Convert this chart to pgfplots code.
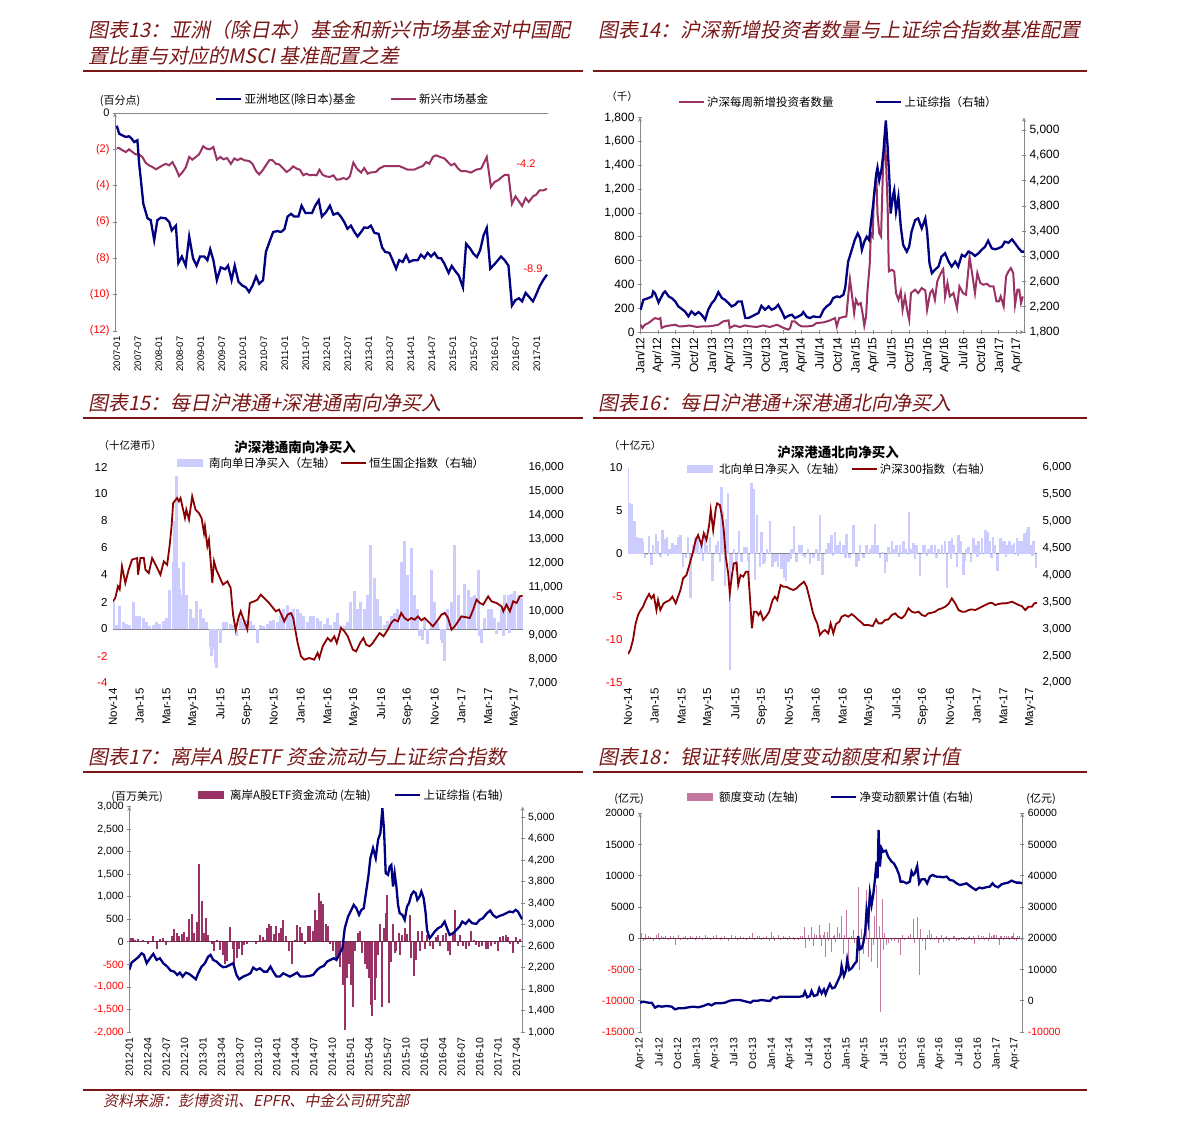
\documentclass[border=0pt]{standalone}
\usepackage{pgfplots}
\pgfplotsset{compat=1.18}
\usepackage{fontspec}
\setmainfont{Liberation Sans}
\newfontfamily\cjk{Noto Sans CJK SC}
\newfontfamily\cjkt[FakeSlant=0.2]{Noto Sans CJK SC}
\definecolor{navy}{RGB}{0,0,128}
\definecolor{plum}{RGB}{153,51,102}
\definecolor{dred}{RGB}{139,0,0}
\definecolor{lav}{RGB}{204,204,255}
\definecolor{ttl}{RGB}{122,24,24}
\definecolor{axgray}{RGB}{135,135,135}
\definecolor{barpink}{RGB}{196,120,160}
\definecolor{zline}{RGB}{110,40,70}
\newcommand{\fs}[1]{\fontsize{#1}{#1}\selectfont}
\newcommand{\R}[1]{\textcolor{red}{#1}}
\pgfplotsset{
  myax/.style={scale only axis, anchor=north west,
    scaled y ticks=false, scaled x ticks=false,
    axis line style={axgray, line width=0.8pt},
    every outer x axis line/.append style={-},
    every outer y axis line/.append style={-},
    every inner x axis line/.append style={-},
    every inner y axis line/.append style={-},
    tick style={axgray, line width=0.8pt},
    tick align=outside, major tick length=4pt,
    legend style={draw=none, fill=none, inner sep=0pt, anchor=west, font=\cjk\fs{11.5}},
    legend cell align=left,
  },
  linleg/.style={legend image code/.code={\draw[##1] (0pt,0pt)--(25pt,0pt);}},
  barleg/.style={legend image code/.code={\draw[##1,line width=8pt] (0pt,0pt)--(26pt,0pt);}},
}
\begin{document}
\begin{tikzpicture}
\fill[white] (0pt,0pt) rectangle (1191pt,-1130pt);
\useasboundingbox (0pt,0pt) rectangle (1191pt,-1130pt);
% ---------- titles ----------
\node[anchor=west,inner sep=0pt,text=ttl,font=\cjkt\fs{20}] at (88pt,-30pt) {图表13：亚洲（除日本）基金和新兴市场基金对中国配};
\node[anchor=west,inner sep=0pt,text=ttl,font=\cjkt\fs{20}] at (88pt,-56pt) {置比重与对应的MSCI 基准配置之差};
\node[anchor=west,inner sep=0pt,text=ttl,font=\cjkt\fs{20}] at (598pt,-30pt) {图表14：沪深新增投资者数量与上证综合指数基准配置};
\node[anchor=west,inner sep=0pt,text=ttl,font=\cjkt\fs{20}] at (88pt,-403pt) {图表15：每日沪港通+深港通南向净买入};
\node[anchor=west,inner sep=0pt,text=ttl,font=\cjkt\fs{20}] at (598pt,-403pt) {图表16：每日沪港通+深港通北向净买入};
\node[anchor=west,inner sep=0pt,text=ttl,font=\cjkt\fs{20}] at (88pt,-757pt) {图表17：离岸A 股ETF 资金流动与上证综合指数};
\node[anchor=west,inner sep=0pt,text=ttl,font=\cjkt\fs{20}] at (598pt,-757pt) {图表18：银证转账周度变动额度和累计值};
\node[anchor=west,inner sep=0pt,text=ttl,font=\cjkt\fs{15}] at (103pt,-1101pt) {资料来源：彭博资讯、EPFR、中金公司研究部};
\draw[ttl,line width=1.3pt] (83pt,-71pt)--(583pt,-71pt);
\draw[ttl,line width=1.3pt] (593pt,-71pt)--(1087pt,-71pt);
\draw[ttl,line width=1.3pt] (83pt,-418pt)--(583pt,-418pt);
\draw[ttl,line width=1.3pt] (593pt,-418pt)--(1087pt,-418pt);
\draw[ttl,line width=1.3pt] (83pt,-772pt)--(583pt,-772pt);
\draw[ttl,line width=1.3pt] (593pt,-772pt)--(1087pt,-772pt);
\draw[ttl,line width=1.3pt] (83pt,-1090pt)--(1087pt,-1090pt);
% ---------- small texts ----------
\node[font=\cjk\fs{11}] at (120pt,-101pt) {(百分点)};
\node[font=\fs{11},text=red] at (526pt,-164pt) {-4.2};
\node[font=\fs{11},text=red] at (533pt,-269pt) {-8.9};
\node[font=\cjk\fs{10.5}] at (622pt,-97pt) {（千）};
\node[font=\cjk\fs{10.5}] at (130pt,-446pt) {（十亿港币）};
\node[font=\cjk\bfseries\fs{13.5}] at (295pt,-447pt) {沪深港通南向净买入};
\node[font=\cjk\fs{10.5}] at (635pt,-446pt) {（十亿元）};
\node[font=\cjk\bfseries\fs{13.5}] at (838pt,-452pt) {沪深港通北向净买入};
\node[font=\cjk\fs{11}] at (137pt,-797pt) {(百万美元)};
\node[font=\cjk\fs{11}] at (629pt,-799pt) {(亿元)};
\node[font=\cjk\fs{11}] at (1041pt,-799pt) {(亿元)};

% ================= Panel 13 =================
\begin{axis}[myax, at={(115pt,-113pt)}, width=433pt, height=218pt,
  xmin=-0.5, xmax=123.2, ymin=-12, ymax=0,
  axis x line=bottom, axis y line=left,
  x axis line style={draw=none}, xtick style={draw=none},
  xtick={0,6,...,120},
  xticklabels={2007-01,2007-07,2008-01,2008-07,2009-01,2009-07,2010-01,2010-07,2011-01,2011-07,2012-01,2012-07,2013-01,2013-07,2014-01,2014-07,2015-01,2015-07,2016-01,2016-07,2017-01},
  xticklabel style={rotate=90, anchor=east, font=\fs{9.5}},
  ytick={-12,-10,...,-2},
  yticklabels={\R{(12)},\R{(10)},\R{(8)},\R{(6)},\R{(4)},\R{(2)}},
  yticklabel style={font=\fs{11}},
  extra y ticks={0}, extra y tick labels={0},
  extra y tick style={grid=major, major grid style={axgray, line width=0.8pt}},
  legend style={at={(0.635,1.064)}},
]
\addplot[plum, line width=2pt, linleg] coordinates {
(0,-1.93) (0.7,-1.93) (1.6,-2.05) (2.6,-2.15) (3.5,-2.0) (4.5,-2.15) (5.4,-2.28) (6.4,-2.28) (7.3,-2.42) (8.3,-2.75) (9.2,-2.88) (10.2,-2.97) (11.2,-3.1) (12.1,-3.0) (13.1,-2.88) (14.0,-2.8) (15.0,-2.88) (15.9,-2.7) (16.9,-3.06) (17.8,-3.47) (18.8,-3.25) (19.7,-3.0) (20.7,-2.42) (21.6,-2.57) (22.6,-2.42) (23.5,-2.28) (24.7,-1.83) (25.6,-1.96) (26.6,-2.0) (27.6,-1.87) (28.6,-2.57) (29.6,-2.42) (30.5,-2.55) (31.5,-2.48) (32.6,-2.8) (33.6,-2.5) (34.5,-2.6) (35.5,-2.5) (36.4,-2.6) (37.8,-2.64) (38.8,-2.8) (39.8,-3.2) (40.7,-3.38) (41.7,-3.15) (42.6,-2.88) (43.6,-2.6) (44.5,-2.6) (45.5,-2.8) (46.4,-2.83) (47.6,-3.06) (48.5,-3.25) (49.5,-3.12) (50.4,-2.94) (51.4,-3.06) (52.3,-3.12) (53.3,-3.43) (54.2,-3.34) (55.2,-3.43) (56.1,-3.4) (57.1,-3.43) (57.9,-3.12) (58.8,-3.4) (59.8,-3.49) (60.9,-3.52) (61.9,-3.43) (62.8,-3.67) (63.8,-3.65) (64.7,-3.58) (65.7,-3.65) (66.6,-3.49) (67.6,-2.73) (68.6,-3.06) (69.8,-3.28) (70.7,-3.03) (71.7,-3.34) (72.6,-3.27) (74.0,-3.25) (75.0,-3.06) (76.4,-2.92) (78.4,-2.92) (80.7,-2.92) (81.7,-3.0) (83.1,-3.12) (85.0,-3.12) (86.3,-3.0) (87.4,-2.92) (88.4,-2.7) (89.3,-2.79) (90.3,-2.42) (91.2,-2.33) (92.4,-2.42) (93.6,-2.5) (94.6,-2.7) (95.5,-2.88) (96.5,-2.79) (97.5,-3.06) (98.4,-3.2) (99.8,-3.2) (101.2,-3.28) (102.7,-3.12) (104.1,-3.06) (105.0,-2.7) (105.7,-2.42) (106.9,-4.07) (107.9,-3.8) (109.0,-3.7) (110.0,-3.52) (110.9,-3.4) (111.9,-3.4) (112.9,-5.0) (113.9,-4.59) (114.9,-4.86) (115.8,-5.12) (116.8,-4.68) (117.7,-4.9) (118.9,-4.59) (119.8,-4.5) (120.8,-4.26) (121.9,-4.26) (122.9,-4.17)
};
\addlegendentry{新兴市场基金}
\end{axis}
\begin{axis}[myax, at={(115pt,-113pt)}, width=433pt, height=218pt,
  xmin=-0.5, xmax=123.2, ymin=-12, ymax=0, hide axis,
  legend style={at={(0.231,1.064)}},
]
\addplot[navy, line width=2.3pt, linleg] coordinates {
(0,-0.7) (0.7,-1.14) (1.6,-1.23) (2.6,-1.32) (3.5,-1.28) (4.2,-1.4) (5.0,-1.6) (5.9,-1.5) (6.4,-2.8) (6.9,-3.7) (7.6,-5.0) (8.8,-5.8) (9.7,-5.9) (10.7,-7.0) (11.6,-5.9) (12.6,-5.76) (14.0,-5.8) (15.0,-6.0) (15.7,-6.46) (16.9,-6.2) (17.6,-8.26) (18.6,-7.9) (19.7,-8.4) (20.7,-6.8) (21.8,-8.0) (22.8,-8.4) (23.8,-7.9) (25.0,-7.9) (25.9,-8.1) (26.7,-7.5) (27.6,-8.1) (28.6,-9.2) (29.7,-8.5) (31.0,-8.6) (31.8,-8.4) (32.8,-9.2) (33.7,-8.4) (34.8,-9.3) (35.9,-9.5) (36.9,-9.6) (37.8,-9.85) (38.8,-9.5) (39.8,-9.0) (40.7,-9.4) (41.8,-9.2) (42.6,-7.65) (43.8,-7.0) (44.7,-6.55) (45.9,-6.5) (46.9,-6.55) (47.9,-6.4) (48.8,-5.7) (49.8,-5.55) (50.7,-5.7) (51.9,-5.7) (52.8,-5.1) (53.9,-5.5) (54.8,-5.5) (55.8,-5.5) (56.7,-5.1) (57.7,-4.8) (58.6,-5.7) (59.8,-5.45) (60.9,-5.1) (61.9,-5.6) (63.1,-5.5) (64.0,-5.7) (65.0,-6.0) (65.9,-6.37) (66.9,-6.2) (67.9,-6.55) (68.8,-6.8) (69.8,-6.55) (70.7,-6.3) (71.7,-6.33) (72.6,-6.2) (73.6,-6.6) (74.8,-6.65) (75.8,-7.4) (76.7,-7.65) (77.9,-7.7) (78.8,-8.1) (79.8,-8.57) (80.7,-8.1) (81.7,-8.2) (82.7,-7.83) (83.6,-8.2) (84.7,-8.1) (86.0,-8.1) (86.9,-7.8) (87.9,-7.98) (88.8,-7.7) (89.8,-7.9) (90.8,-7.7) (91.7,-7.98) (92.7,-8.0) (93.6,-8.3) (94.8,-8.8) (95.7,-8.42) (96.7,-8.7) (97.7,-8.94) (98.9,-9.6) (99.8,-7.2) (101.0,-7.47) (101.9,-7.75) (102.9,-7.93) (103.8,-7.56) (104.8,-6.73) (105.7,-6.33) (106.7,-8.57) (107.9,-8.33) (108.9,-8.1) (109.8,-7.9) (110.8,-8.1) (111.9,-8.4) (112.9,-10.6) (113.9,-10.3) (114.9,-10.2) (115.8,-10.37) (116.8,-9.9) (117.7,-10.1) (118.9,-10.37) (119.8,-10.0) (120.8,-9.54) (121.9,-9.17) (122.9,-8.9)
};
\addlegendentry{亚洲地区(除日本)基金}
\end{axis}

% ================= Panel 14 =================
\begin{axis}[myax, at={(640pt,-117.7pt)}, width=384pt, height=214.3pt,
  xmin=0, xmax=64.2, ymin=0, ymax=1800,
  axis x line=bottom, axis y line=left,
  xtick={0,3,...,63},
  xticklabels={Jan/12,Apr/12,Jul/12,Oct/12,Jan/13,Apr/13,Jul/13,Oct/13,Jan/14,Apr/14,Jul/14,Oct/14,Jan/15,Apr/15,Jul/15,Oct/15,Jan/16,Apr/16,Jul/16,Oct/16,Jan/17,Apr/17},
  xticklabel style={rotate=90, anchor=east, font=\fs{12}},
  ytick={0,200,...,1800},
  yticklabels={0,200,400,600,800,{1,000},{1,200},{1,400},{1,600},{1,800}},
  yticklabel style={font=\fs{12}},
  legend style={at={(0.099,1.073)}},
]
\addplot[plum, line width=2pt, linleg] coordinates {
(0.1,61) (0.4,34) (0.8,61) (1.4,75) (2.0,98) (2.5,117) (3.1,109) (3.4,117) (3.6,34) (4.2,48) (5.0,55) (5.9,61) (6.5,48) (7.2,48) (8.3,55) (9.5,42) (10.6,48) (11.5,48) (12.3,53) (13.1,61) (13.9,89) (14.8,98) (15.0,34) (15.8,55) (16.7,42) (17.5,55) (18.4,48) (19.5,42) (20.6,55) (21.7,42) (22.9,61) (24.0,34) (24.8,20) (25.1,34) (25.4,89) (25.9,89) (26.5,61) (27.0,48) (28.1,48) (28.9,53) (29.5,75) (30.7,81) (31.8,98) (32.6,117) (32.9,48) (33.3,117) (34.0,126) (34.5,131) (34.8,299) (35.1,444) (35.4,327) (35.8,159) (36.1,271) (36.5,229) (36.9,243) (37.2,159) (37.5,53) (37.8,131) (38.0,327) (38.4,565) (38.6,830) (38.9,802) (39.1,1138) (39.5,1333) (39.7,1000) (40.0,830) (40.3,802) (40.6,1333) (40.9,1641) (41.1,1473) (41.4,1054) (41.6,509) (42.1,523) (42.5,509) (42.8,327) (43.2,271) (43.6,341) (43.9,187) (44.3,299) (44.7,173) (45.0,103) (45.3,327) (46.0,355) (46.5,327) (47.1,369) (47.7,349) (48.0,187) (48.5,327) (48.9,355) (49.3,271) (49.7,425) (50.3,495) (50.7,528) (51.0,299) (51.4,411) (51.8,299) (52.4,327) (53.0,201) (53.4,383) (54.0,327) (54.5,313) (55.1,629) (55.6,467) (56.0,327) (56.4,495) (56.9,411) (57.4,397) (58.0,405) (58.5,383) (59.1,383) (59.6,257) (60.0,257) (60.3,299) (60.8,215) (61.2,467) (61.6,509) (62.0,537) (62.4,495) (62.7,229) (63.1,355) (63.4,355) (63.7,243) (64.0,299)
};
\addlegendentry{沪深每周新增投资者数量}
\end{axis}
\begin{axis}[myax, at={(640pt,-117.7pt)}, width=384pt, height=214.3pt,
  xmin=0, xmax=64.2, ymin=1800, ymax=5200,
  axis x line=none, axis y line=right,
  ytick={1800,2200,...,5000},
  yticklabels={{1,800},{2,200},{2,600},{3,000},{3,400},{3,800},{4,200},{4,600},{5,000}},
  yticklabel style={font=\fs{12}},
  legend style={at={(0.612,1.073)}},
]
\addplot[navy, line width=2.3pt, linleg] coordinates {
(0.1,2153) (0.56,2311) (1.4,2338) (2.0,2364) (2.2,2443) (2.5,2417) (3.1,2269) (3.9,2417) (4.2,2443) (4.8,2364) (5.3,2338) (5.9,2285) (6.4,2206) (7.0,2164) (7.5,2127) (8.1,2048) (8.6,2127) (9.2,2074) (9.8,2116) (10.3,2074) (10.9,1995) (11.4,2153) (12.0,2258) (12.5,2311) (13.1,2432) (13.7,2338) (14.2,2311) (14.8,2258) (15.3,2206) (15.9,2232) (16.4,2285) (17.0,2285) (17.6,2021) (18.1,2021) (18.7,2048) (19.2,2074) (19.8,2100) (20.3,2216) (20.9,2153) (21.5,2206) (22.0,2153) (22.6,2180) (23.1,2232) (23.7,2127) (24.2,2021) (24.8,2058) (25.4,2074) (25.9,2021) (26.5,2048) (27.0,2074) (27.3,2116) (27.9,2037) (28.4,2021) (29.0,2048) (29.5,2037) (30.1,2037) (30.7,2153) (31.2,2206) (31.8,2248) (32.3,2338) (32.9,2364) (33.4,2353) (34.0,2390) (34.3,2496) (34.8,2917) (35.4,3102) (35.9,3260) (36.4,3365) (36.8,3286) (37.1,3102) (37.5,3233) (37.9,3312) (38.3,3260) (38.6,3523) (39.0,3840) (39.5,4314) (39.7,4408) (40.0,4208) (40.4,4393) (40.7,4656) (40.9,4920) (41.1,5157) (41.4,4735) (41.7,4208) (41.9,3681) (42.3,3971) (42.5,4050) (42.8,3708) (43.2,3945) (43.6,3470) (44.0,3181) (44.6,3075) (45.0,3154) (45.4,3392) (46.0,3576) (46.5,3602) (47.1,3444) (47.7,3602) (48.0,3392) (48.4,2891) (48.8,2733) (49.3,2786) (49.9,2838) (50.4,2996) (51.0,3049) (51.6,2917) (52.1,2838) (52.7,2917) (53.2,2838) (53.8,3023) (54.3,2996) (54.9,3075) (55.5,3049) (56.0,3007) (56.6,3049) (57.1,3102) (57.7,3154) (58.2,3249) (58.8,3128) (59.4,3112) (59.9,3128) (60.5,3154) (61.0,3233) (61.6,3217) (62.2,3270) (62.7,3207) (63.3,3128) (63.8,3075) (64.2,3075)
};
\addlegendentry{上证综指（右轴）}
\end{axis}

% ================= Panel 15 =================
\begin{axis}[myax, at={(113pt,-467pt)}, width=410pt, height=216pt,
  xmin=0, xmax=30.6, ymin=-4, ymax=12,
  axis x line=bottom, axis y line=left,
  x axis line style={draw=none}, y axis line style={draw=none}, tick style={draw=none},
  xtick={0,2,...,30},
  xticklabels={Nov-14,Jan-15,Mar-15,May-15,Jul-15,Sep-15,Nov-15,Jan-16,Mar-16,May-16,Jul-16,Sep-16,Nov-16,Jan-17,Mar-17,May-17},
  xticklabel style={rotate=90, anchor=east, font=\fs{11.5}},
  ytick={-4,-2,...,12},
  yticklabels={\R{-4},\R{-2},0,2,4,6,8,10,12},
  yticklabel style={font=\fs{11.5}},
  extra y ticks={0}, extra y tick labels={},
  extra y tick style={grid=major, major grid style={axgray, line width=1pt}},
  legend style={at={(0.146,1.0185)}},
]
\addplot[ycomb, lav, line width=3pt, barleg] coordinates {
(0,2.0) (0.25,0.3) (0.5,1.7) (0.75,0.5) (1,0.4) (1.25,0.3) (1.5,2.0) (1.75,1.0) (2,1.0) (2.25,0.8) (2.5,0.5) (2.75,0.2) (3,0.3) (3.25,0.5) (3.5,0.4) (3.75,0.6) (4,0.8) (4.25,2.9) (4.5,5.0) (4.62,8.0) (4.75,11.3) (4.88,4.5) (5,3.0) (5.12,2.5) (5.25,5.0) (5.5,2.5) (5.75,1.5) (6,0.8) (6.25,2.1) (6.5,1.5) (6.75,0.8) (7,0.5) (7.25,-1.3) (7.38,-2.0) (7.5,-1.5) (7.62,-2.5) (7.75,-2.9) (8,-1.0) (8.25,0.5) (8.5,0.5) (8.75,0.4) (9,0.3) (9.25,-0.5) (9.5,0.8) (9.75,0.5) (10,0.7) (10.25,0.6) (10.5,0.3) (10.75,-1.0) (11,0.3) (11.25,0.2) (11.5,0.4) (11.75,0.6) (12,0.7) (12.25,0.5) (12.5,1.0) (12.75,1.5) (13,1.8) (13.25,1.2) (13.5,1.5) (13.75,1.5) (14,1.2) (14.25,1.0) (14.5,0.5) (14.75,1.0) (15,1.0) (15.25,0.8) (15.5,0.6) (15.75,0.4) (16,0.8) (16.25,0.3) (16.5,0.5) (16.75,1.2) (17,0.3) (17.25,0.2) (17.5,0.5) (17.75,2.0) (18,2.8) (18.25,1.5) (18.5,2.0) (18.75,1.5) (19,2.5) (19.25,6.2) (19.5,3.8) (19.75,2.2) (20,1.0) (20.25,0.3) (20.5,0.6) (20.75,1.0) (21,1.2) (21.25,1.5) (21.5,5.0) (21.62,4.5) (21.75,6.5) (22,4.0) (22.25,6.0) (22.5,2.5) (22.75,1.5) (22.88,-0.5) (23,-0.5) (23.12,-0.8) (23.25,0.8) (23.5,-1.1) (23.75,4.4) (24,2.0) (24.25,0.5) (24.5,-0.8) (24.62,-1.0) (24.75,-2.4) (25,1.5) (25.25,2.0) (25.5,6.2) (25.75,2.5) (26,1.0) (26.25,3.3) (26.5,2.9) (26.75,2.4) (27,2.5) (27.25,4.4) (27.38,-0.5) (27.5,-1.0) (27.75,0.8) (28,1.5) (28.25,1.5) (28.5,0.8) (28.62,-0.4) (28.75,0.5) (29,1.5) (29.12,-0.5) (29.25,2.5) (29.5,2.5) (29.62,-0.3) (29.75,2.6) (30,2.8) (30.25,2.5) (30.5,2.3)
};
\addlegendentry{南向单日净买入（左轴）}
\end{axis}
\begin{axis}[myax, at={(113pt,-467pt)}, width=410pt, height=216pt,
  xmin=0, xmax=30.6, ymin=7000, ymax=16000,
  axis x line=none, axis y line=right, y axis line style={draw=none}, tick style={draw=none},
  ytick={7000,8000,...,16000},
  yticklabels={{7,000},{8,000},{9,000},{10,000},{11,000},{12,000},{13,000},{14,000},{15,000},{16,000}},
  yticklabel style={font=\fs{11.5}},
  legend style={at={(0.554,1.0185)}},
]
\addplot[dred, line width=1.8pt, linleg] coordinates {
(0,10403) (0.17,10542) (0.37,11028) (0.5,10900) (0.67,11861) (0.92,11167) (1.17,11722) (1.42,12139) (1.80,12208) (1.87,11514) (2.05,12208) (2.30,12208) (2.42,11722) (2.67,11583) (2.92,12208) (3.17,11931) (3.42,11653) (3.54,11514) (3.79,12069) (4.04,11931) (4.22,12694) (4.37,13528) (4.49,14500) (4.79,14708) (4.92,14569) (5.04,14708) (5.37,13875) (5.47,14222) (5.67,13806) (5.91,14778) (6.16,14222) (6.41,14083) (6.61,13875) (6.79,13250) (6.86,13528) (7.04,12694) (7.16,12972) (7.29,12069) (7.41,11167) (7.54,12069) (7.71,11722) (8.04,11306) (8.21,11097) (8.54,11236) (8.78,10958) (8.96,9847) (9.16,9222) (9.36,9708) (9.53,9986) (9.66,9778) (10.03,9222) (10.21,10333) (10.53,10403) (10.78,10472) (11.03,10681) (11.28,10542) (11.65,10333) (12.15,9986) (12.40,10056) (12.78,9569) (13.03,9847) (13.28,9917) (13.45,9708) (13.78,8667) (14.03,8111) (14.27,7972) (14.65,8042) (15.02,7972) (15.27,8250) (15.40,8042) (15.65,8528) (16.02,8875) (16.27,8736) (16.52,8944) (16.70,8667) (17.02,9292) (17.27,9153) (17.52,8944) (17.90,8389) (18.15,8319) (18.44,8667) (18.69,8875) (18.89,8597) (19.14,8528) (19.39,8667) (19.64,8875) (19.89,9083) (20.19,8944) (20.51,9222) (20.76,9500) (21.01,9639) (21.26,9569) (21.51,9917) (21.76,9708) (22.01,9611) (22.26,9708) (22.51,9639) (22.76,9778) (23.01,9611) (23.26,9708) (23.51,9569) (23.88,9361) (24.26,9639) (24.51,9847) (24.76,9917) (25.01,9708) (25.26,9222) (25.51,9361) (25.76,9569) (26.00,9778) (26.25,9750) (26.63,9708) (26.88,10056) (27.13,10472) (27.38,10333) (27.63,10264) (28.00,10611) (28.25,10403) (28.63,10333) (29.00,10194) (29.13,9986) (29.37,10264) (29.62,9986) (29.87,10403) (30.12,10333) (30.37,10611) (30.57,10639)
};
\addlegendentry{恒生国企指数（右轴）}
\end{axis}

% ================= Panel 16 =================
\begin{axis}[myax, at={(628pt,-467.7pt)}, width=409pt, height=215pt,
  xmin=0, xmax=30.5, ymin=-15, ymax=10,
  axis x line=bottom, axis y line=left,
  x axis line style={draw=none}, y axis line style={draw=none}, tick style={draw=none},
  xtick={0,2,...,30},
  xticklabels={Nov-14,Jan-15,Mar-15,May-15,Jul-15,Sep-15,Nov-15,Jan-16,Mar-16,May-16,Jul-16,Sep-16,Nov-16,Jan-17,Mar-17,May-17},
  xticklabel style={rotate=90, anchor=east, font=\fs{11.5}},
  ytick={-15,-10,...,10},
  yticklabels={\R{-15},\R{-10},\R{-5},0,5,10},
  yticklabel style={font=\fs{11.5}},
  extra y ticks={0}, extra y tick labels={},
  extra y tick style={grid=major, major grid style={axgray, line width=1pt}},
  legend style={at={(0.134,0.994)}},
]
\addplot[ycomb, lav, line width=2.5pt, barleg] coordinates {
(0,10) (0.12,5.9) (0.25,5.8) (0.37,2.0) (0.5,3.8) (0.62,2.0) (0.82,1.8) (1.0,1.8) (1.12,1.5) (1.25,-0.5) (1.37,-0.2) (1.57,2.1) (1.74,-1.3) (1.87,1.0) (2.07,2.3) (2.24,1.5) (2.41,-0.4) (2.56,2.8) (2.74,1.7) (2.91,2.0) (3.0,-0.3) (3.11,0.5) (3.31,1.2) (3.56,1.0) (3.73,2.0) (3.91,2.2) (4.11,-1.6) (4.31,-0.5) (4.48,2.0) (4.66,-5.2) (4.85,1.0) (5.05,2.0) (5.23,2.3) (5.48,1.5) (5.6,-0.8) (5.73,2.5) (5.90,1.0) (6.10,2.0) (6.30,-3.2) (6.55,1.0) (6.72,1.5) (6.85,-1.0) (6.97,7.8) (7.09,5.0) (7.22,-3.7) (7.34,4.0) (7.47,7.1) (7.59,-13.5) (7.72,-1.5) (7.89,0.5) (8.09,-2.0) (8.29,2.6) (8.46,-1.0) (8.64,0.8) (8.84,0.8) (8.95,-0.8) (9.04,-3.0) (9.21,8.2) (9.34,7.5) (9.46,-3.0) (9.63,4.5) (9.83,-1.5) (9.96,2.5) (10.1,-1.2) (10.21,-1.0) (10.38,0.5) (10.58,3.8) (10.78,-1.5) (10.95,-1.0) (11.1,-0.8) (11.20,-1.5) (11.45,-1.8) (11.63,-2.8) (11.78,-3.2) (11.95,-1.0) (12.1,-0.6) (12.20,0.5) (12.37,3.2) (12.57,-1.0) (12.77,1.0) (12.94,1.0) (13.05,-0.3) (13.19,-0.5) (13.44,0.5) (13.57,-1.2) (13.82,-0.5) (14.07,0.5) (14.2,-0.8) (14.31,4.5) (14.51,-2.5) (14.76,0.5) (14.94,1.3) (15.19,2.2) (15.3,-0.3) (15.43,2.5) (15.61,1.0) (15.81,1.5) (16.06,1.0) (16.2,-0.5) (16.31,2.3) (16.50,-0.5) (16.80,3.3) (17.05,-1.5) (17.2,-0.8) (17.30,1.0) (17.55,-0.5) (17.80,1.0) (18.05,0.5) (18.25,1.0) (18.42,3.5) (18.60,1.0) (18.80,-0.5) (18.99,0.2) (19.17,-2.2) (19.3,-1.0) (19.42,0.8) (19.67,1.5) (19.84,0.5) (20.04,1.0) (20.2,-0.4) (20.29,1.0) (20.54,1.5) (20.74,0.5) (20.94,4.9) (21.09,0.5) (21.28,1.3) (21.4,-0.6) (21.53,1.0) (21.78,-2.6) (21.98,1.0) (22.16,1.0) (22.3,-0.3) (22.40,0.5) (22.65,1.0) (22.9,1.0) (23.0,-0.5) (23.15,0.5) (23.40,1.0) (23.65,1.5) (23.77,-4.0) (23.97,1.5) (24.07,-0.6) (24.15,1.8) (24.32,1.0) (24.52,-1.5) (24.65,2.2) (24.82,1.5) (25.02,-2.5) (25.12,-0.8) (25.22,0.5) (25.39,0.8) (25.57,-1.0) (25.77,1.8) (25.96,1.0) (26.05,-0.4) (26.14,1.5) (26.39,1.8) (26.64,2.7) (26.81,2.5) (27.01,1.5) (27.1,-0.5) (27.21,2.0) (27.38,1.0) (27.56,-2.0) (27.76,1.8) (27.96,1.5) (28.13,1.5) (28.2,-0.4) (28.30,1.0) (28.45,1.5) (28.63,1.0) (28.80,1.2) (29.00,1.8) (29.1,-0.3) (29.20,1.5) (29.37,1.5) (29.55,2.4) (29.75,2.8) (29.87,3.1) (30.05,1.0) (30.15,-0.3) (30.25,1.5) (30.42,-1.7)
};
\addlegendentry{北向单日净买入（左轴）}
\end{axis}
\begin{axis}[myax, at={(628pt,-467.7pt)}, width=409pt, height=215pt,
  xmin=0, xmax=30.5, ymin=2000, ymax=6000,
  axis x line=none, axis y line=right, y axis line style={draw=none}, tick style={draw=none},
  ytick={2000,2500,...,6000},
  yticklabels={{2,000},{2,500},{3,000},{3,500},{4,000},{4,500},{5,000},{5,500},{6,000}},
  yticklabel style={font=\fs{11.5}},
  legend style={at={(0.545,0.994)}},
]
\addplot[dred, line width=1.8pt, linleg] coordinates {
(0,2533) (0.17,2608) (0.37,2794) (0.57,3104) (0.75,3259) (0.87,3321) (1.12,3414) (1.32,3538) (1.57,3650) (1.74,3569) (1.92,3631) (2.12,3352) (2.24,3538) (2.41,3352) (2.66,3476) (2.86,3507) (3.11,3538) (3.31,3600) (3.56,3476) (3.73,3600) (3.91,3724) (4.11,3941) (4.36,4003) (4.61,4220) (4.85,4437) (5.05,4654) (5.23,4747) (5.48,4561) (5.65,4778) (5.85,4654) (6.05,4933) (6.17,5212) (6.35,4840) (6.55,5243) (6.65,5336) (6.85,5305) (7.02,5088) (7.14,4840) (7.29,4344) (7.47,4034) (7.59,3662) (7.77,4034) (7.89,4220) (8.09,4233) (8.22,3817) (8.39,4003) (8.59,3972) (8.79,4065) (8.96,4065) (9.09,3600) (9.24,3011) (9.39,3321) (9.58,3321) (9.73,3259) (9.88,3321) (10.08,3166) (10.28,3228) (10.53,3321) (10.78,3538) (10.95,3600) (11.13,3538) (11.38,3817) (11.58,3786) (11.82,3786) (12.02,3755) (12.32,3724) (12.57,3755) (12.82,3817) (13.12,3879) (13.32,3786) (13.57,3538) (13.77,3321) (13.94,3197) (14.11,3104) (14.31,2887) (14.51,2949) (14.69,2980) (14.94,2918) (15.11,3104) (15.31,2918) (15.51,3091) (15.76,3135) (15.93,3228) (16.18,3259) (16.43,3228) (16.68,3277) (16.93,3228) (17.18,3166) (17.35,3135) (17.60,3073) (17.92,3073) (18.25,3054) (18.50,3178) (18.67,3104) (18.92,3104) (19.17,3166) (19.42,3178) (19.67,3259) (19.92,3290) (20.16,3228) (20.41,3197) (20.66,3259) (20.91,3383) (21.16,3321) (21.41,3302) (21.66,3321) (21.91,3259) (22.16,3240) (22.40,3290) (22.65,3302) (22.90,3321) (23.15,3364) (23.40,3383) (23.65,3414) (23.90,3464) (24.15,3569) (24.40,3476) (24.65,3352) (24.90,3321) (25.14,3321) (25.39,3352) (25.64,3364) (25.89,3352) (26.14,3383) (26.39,3414) (26.64,3445) (26.89,3476) (27.13,3488) (27.38,3445) (27.63,3464) (27.88,3476) (28.13,3476) (28.38,3488) (28.63,3507) (28.88,3476) (29.13,3445) (29.37,3426) (29.62,3352) (29.87,3414) (30.12,3414) (30.30,3476) (30.50,3488)
};
\addlegendentry{沪深300指数（右轴）}
\end{axis}

% ================= Panel 17 =================
\begin{axis}[myax, at={(129.3pt,-806.7pt)}, width=393.4pt, height=225.3pt,
  xmin=0, xmax=64, ymin=-2000, ymax=3000,
  axis x line=bottom, axis y line=left,
  x axis line style={draw=none}, xtick style={draw=none},
  xtick={0,3,...,63},
  xticklabels={2012-01,2012-04,2012-07,2012-10,2013-01,2013-04,2013-07,2013-10,2014-01,2014-04,2014-07,2014-10,2015-01,2015-04,2015-07,2015-10,2016-01,2016-04,2016-07,2016-10,2017-01,2017-04},
  xticklabel style={rotate=90, anchor=east, font=\fs{10.5}},
  ytick={-2000,-1500,...,3000},
  yticklabels={\R{-2,000},\R{-1,500},\R{-1,000},\R{-500},0,500,{1,000},{1,500},{2,000},{2,500},{3,000}},
  yticklabel style={font=\fs{10.5}},
  legend style={at={(0.164,1.052)}},
]
\addplot[ycomb, plum, line width=2pt, barleg] coordinates {
(0.2,80) (0.65,80) (0.92,50) (1.46,70) (2.28,50) (3.09,-40) (3.36,30) (3.90,130) (4.44,-150) (4.98,60) (5.53,80) (5.96,-60) (6.34,20) (6.88,120) (7.31,280) (7.69,200) (8.13,120) (8.50,180) (8.94,210) (9.32,100) (9.75,500) (10.13,630) (10.51,200) (10.94,450) (11.38,1720) (11.76,900) (12.13,200) (12.46,520) (12.84,150) (13.38,-50) (13.76,-200) (14.19,50) (14.73,-180) (15.17,-280) (15.55,-480) (15.93,-420) (16.36,320) (16.79,-150) (17.01,-520) (17.44,-350) (17.88,-150) (18.26,-300) (18.64,-80) (19.07,-50) (19.61,30) (20.15,20) (20.69,-40) (21.24,150) (21.67,100) (22.05,50) (22.43,300) (22.75,400) (23.13,350) (23.51,180) (23.94,350) (24.38,200) (24.76,300) (25.03,480) (25.57,120) (26.00,-200) (26.54,-480) (26.92,50) (27.30,380) (27.74,320) (28.17,200) (28.55,-50) (29.09,350) (29.47,350) (29.90,250) (30.23,700) (30.55,480) (30.88,1080) (31.15,900) (31.53,850) (31.96,400) (32.34,350) (32.72,-50) (33.15,-200) (33.59,-400) (33.97,-300) (34.34,-550) (34.78,-950) (35.10,-1950) (35.43,-800) (35.75,-500) (36.13,-950) (36.40,-1450) (36.78,-200) (37.21,200) (37.59,250) (37.92,-250) (38.30,-500) (38.68,-600) (39.00,-800) (39.27,-1400) (39.54,-1650) (39.92,-1300) (40.20,-800) (40.47,-300) (40.85,400) (41.17,-1450) (41.44,300) (41.71,650) (41.98,1050) (42.25,-1350) (42.63,-450) (42.90,400) (43.17,-250) (43.45,-200) (43.82,200) (44.10,-300) (44.42,150) (44.80,300) (45.18,180) (45.61,600) (45.88,-350) (46.32,-750) (46.59,-400) (46.97,250) (47.24,-200) (47.67,250) (48.05,-150) (48.48,150) (48.86,-100) (49.40,-150) (49.84,100) (50.22,150) (50.60,-100) (51.03,150) (51.46,200) (51.84,-200) (52.22,-300) (52.65,200) (53.03,700) (53.47,-100) (53.85,150) (54.28,-100) (54.82,-150) (55.25,-100) (55.63,250) (56.01,50) (56.45,-80) (56.88,-120) (57.42,-100) (57.96,-150) (58.34,-150) (58.88,-100) (59.43,-50) (59.97,-200) (60.35,100) (60.78,120) (61.21,150) (61.59,100) (61.97,-50) (62.41,-250) (62.84,100) (63.22,-50) (63.60,60)
};
\addlegendentry{离岸A股ETF资金流动 (左轴)}
\draw[zline, line width=1.2pt] (axis cs:0,0) -- (axis cs:64,0);
\end{axis}
\begin{axis}[myax, at={(129.3pt,-806.7pt)}, width=393.4pt, height=225.3pt,
  xmin=0, xmax=64, ymin=1000, ymax=5200,
  axis x line=none, axis y line=right,
  ytick={1000,1400,...,5000},
  yticklabels={{1,000},{1,400},{1,800},{2,200},{2,600},{3,000},{3,400},{3,800},{4,200},{4,600},{5,000}},
  yticklabel style={font=\fs{10.5}},
  legend style={at={(0.673,1.052)}},
]
\addplot[navy, line width=2.3pt, linleg] coordinates {
(0,2157) (0.38,2294) (0.92,2344) (1.46,2394) (2.00,2468) (2.38,2437) (2.82,2282) (3.36,2375) (3.90,2456) (4.44,2344) (4.98,2375) (5.53,2282) (6.18,2219) (6.72,2145) (7.31,2126) (7.80,2064) (8.23,2107) (8.67,2033) (9.21,2107) (9.75,2082) (10.29,2033) (10.83,1983) (11.21,2095) (11.76,2219) (12.30,2282) (12.84,2406) (13.22,2437) (13.65,2344) (14.19,2313) (14.73,2250) (15.28,2207) (15.82,2219) (16.36,2250) (16.90,2282) (17.44,2064) (17.88,1983) (18.53,2033) (19.18,2064) (19.72,2095) (20.15,2201) (20.69,2157) (21.24,2188) (21.89,2126) (22.43,2126) (22.97,2219) (23.40,2126) (23.94,2033) (24.49,2033) (25.03,2095) (25.57,2064) (26.11,2033) (26.65,2064) (27.30,2107) (27.84,2033) (28.55,2033) (29.25,2045) (29.90,2064) (30.55,2157) (31.09,2207) (31.64,2232) (32.18,2313) (32.72,2344) (33.26,2375) (33.69,2344) (34.24,2468) (34.67,2561) (35.05,2935) (35.59,3152) (36.13,3277) (36.51,3370) (36.94,3308) (37.38,3184) (37.76,3277) (38.14,3308) (38.57,3650) (38.89,3899) (39.22,4241) (39.65,4428) (40.09,4241) (40.47,4583) (40.85,4708) (41.17,5174) (41.44,4770) (41.71,3961) (42.09,3930) (42.36,4086) (42.63,4117) (42.90,3712) (43.17,3961) (43.45,3712) (43.72,3370) (43.99,3215) (44.42,3184) (44.80,3090) (45.18,3339) (45.50,3401) (45.88,3557) (46.26,3619) (46.59,3588) (46.86,3463) (47.24,3526) (47.51,3619) (47.89,3495) (48.21,3215) (48.43,2904) (48.86,2748) (49.30,2810) (49.67,2873) (50.22,2935) (50.76,2966) (51.30,3059) (51.68,2935) (52.11,2810) (52.65,2841) (53.20,2904) (53.74,2966) (54.17,3059) (54.71,3016) (55.25,3090) (55.80,3028) (56.45,3016) (56.99,3090) (57.53,3121) (58.18,3215) (58.72,3264) (59.15,3184) (59.70,3134) (60.24,3165) (60.78,3184) (61.32,3215) (61.86,3246) (62.41,3233) (62.84,3277) (63.22,3246) (63.60,3165) (63.92,3103)
};
\addlegendentry{上证综指 (右轴)}
\end{axis}

% ================= Panel 18 =================
\begin{axis}[myax, at={(640pt,-813.3pt)}, width=382.3pt, height=218.7pt,
  xmin=0, xmax=61.2, ymin=-15000, ymax=20000,
  axis x line=bottom, axis y line=left,
  x axis line style={draw=none}, xtick style={draw=none},
  xtick={0,3,...,60},
  xticklabels={Apr-12,Jul-12,Oct-12,Jan-13,Apr-13,Jul-13,Oct-13,Jan-14,Apr-14,Jul-14,Oct-14,Jan-15,Apr-15,Jul-15,Oct-15,Jan-16,Apr-16,Jul-16,Oct-16,Jan-17,Apr-17},
  xticklabel style={rotate=90, anchor=east, font=\fs{10.5}},
  ytick={-15000,-10000,...,20000},
  yticklabels={\R{-15000},\R{-10000},\R{-5000},0,5000,10000,15000,20000},
  yticklabel style={font=\fs{10.5}},
  legend style={at={(0.112,1.075)}},
]
\addplot[ycomb, barpink, line width=0.9pt, barleg] coordinates {
(0.27,800) (0.53,-500) (0.80,700) (0.9,-300) (1.33,300) (1.6,200) (2.13,-400) (2.6,500) (2.93,900) (3.1,-200) (3.47,300) (3.8,200) (4.00,400) (4.5,-300) (4.80,300) (5.3,400) (5.60,-1000) (6.13,500) (6.5,-200) (6.93,200) (7.2,400) (7.6,-300) (8.00,300) (8.4,200) (8.8,-300) (9.07,400) (9.5,300) (10.0,-200) (10.40,500) (10.8,200) (11.2,-300) (11.73,300) (12.3,500) (12.8,-200) (13.07,200) (13.5,400) (14.1,-400) (14.67,500) (15.2,300) (15.6,-200) (16.00,300) (16.5,200) (17.07,-200) (17.5,300) (17.97,900) (18.4,-300) (18.8,400) (19.20,300) (19.5,-200) (19.73,200) (20.3,300) (20.7,-400) (21.07,1000) (21.4,300) (21.60,-500) (22.13,500) (22.5,-300) (22.93,300) (23.3,200) (23.6,-300) (24.00,400) (24.5,200) (24.8,-200) (25.33,-300) (25.7,300) (26.0,400) (26.29,1800) (26.56,-1600) (26.93,500) (27.1,-500) (27.47,1800) (27.73,-1200) (28.0,700) (28.27,500) (28.69,2100) (28.9,500) (29.07,-1200) (29.33,600) (29.5,1000) (29.71,-3000) (29.97,1000) (30.1,-500) (30.40,2500) (30.67,-2200) (30.9,400) (31.20,500) (31.3,-600) (31.57,1800) (31.89,600) (32.0,800) (32.27,3600) (32.53,-2500) (32.80,600) (33.07,4500) (33.33,-3500) (33.60,200) (33.8,400) (34.13,1300) (34.3,-800) (34.67,-1000) (34.93,8200) (35.20,-5000) (35.47,1500) (35.73,-2500) (36.00,500) (36.27,7800) (36.53,-3000) (36.80,8200) (37.07,-3800) (37.44,-1000) (37.60,3600) (37.87,8500) (38.03,-4700) (38.29,2000) (38.45,-11800) (38.77,6300) (38.93,-1800) (39.20,800) (39.47,-1000) (39.73,-800) (40.27,-400) (40.80,-400) (41.33,-700) (41.71,-2600) (41.97,600) (42.40,-300) (42.93,300) (43.36,700) (43.73,3100) (44.00,-800) (44.43,3400) (44.69,-5800) (44.91,1500) (45.2,-500) (45.76,-1800) (46.0,500) (46.29,1300) (46.5,-300) (46.67,700) (47.20,-300) (47.5,300) (47.73,-800) (48.0,-300) (48.27,500) (48.64,-600) (48.9,200) (49.07,400) (49.3,-300) (49.60,-400) (50.13,300) (50.4,300) (50.67,-400) (50.9,-200) (51.20,-300) (51.5,200) (51.73,200) (52.0,-300) (52.27,-200) (52.5,200) (52.80,300) (53.0,-300) (53.3,300) (53.60,-900) (54.13,600) (54.4,-200) (54.67,300) (54.9,400) (55.20,-300) (55.5,200) (55.8,-400) (56.00,800) (56.3,300) (56.53,500) (56.8,500) (57.07,600) (57.3,-300) (57.49,-1100) (57.7,400) (57.87,300) (58.2,-300) (58.40,400) (58.7,300) (58.93,400) (59.2,-300) (59.47,300) (59.6,400) (59.84,800) (60.0,-200) (60.27,-500) (60.5,300) (60.80,300) (61.0,-300)
};
\addlegendentry{额度变动 (左轴)}
\draw[zline, line width=0.9pt] (axis cs:0,0) -- (axis cs:61.2,0);
\end{axis}
\begin{axis}[myax, at={(640pt,-813.3pt)}, width=382.3pt, height=218.7pt,
  xmin=0, xmax=61.2, ymin=-10000, ymax=60000,
  axis x line=none, axis y line=right,
  ytick={-10000,0,...,60000},
  yticklabels={\R{-10000},0,10000,20000,30000,40000,50000,60000},
  yticklabel style={font=\fs{10.5}},
  legend style={at={(0.497,1.075)}},
]
\addplot[navy, line width=2.3pt, linleg] coordinates {
(0,-606) (0.53,-286) (1.33,-606) (1.87,-606) (2.40,-2206) (2.93,-1673) (3.47,-1886) (4.27,-1673) (5.07,-1886) (5.60,-2740) (6.13,-2420) (6.93,-2420) (7.73,-2099) (8.53,-1886) (9.33,-2099) (10.13,-1673) (10.93,-1032) (11.47,-1459) (12.00,-819) (12.80,-819) (13.60,-606) (14.40,33) (15.20,248) (16.00,248) (17.07,-286) (17.71,-606) (18.13,33) (18.93,33) (19.47,248) (20.27,33) (20.80,-73) (21.33,1102) (21.87,782) (22.40,1315) (23.20,1315) (24.00,1315) (24.80,1315) (25.60,1315) (26.13,1528) (26.40,2915) (26.77,1102) (27.20,1528) (27.47,3129) (27.84,1528) (28.37,1848) (28.69,3982) (29.07,2382) (29.44,3662) (29.71,2061) (29.97,3449) (30.40,5370) (30.77,3982) (31.20,4303) (31.73,6650) (32.11,8251) (32.27,11132) (32.64,7931) (32.96,9638) (33.17,13266) (33.49,9852) (33.87,10385) (34.40,11985) (34.67,12519) (34.93,20735) (35.20,16467) (35.47,16787) (35.73,18387) (36.05,22122) (36.27,29057) (36.53,25643) (36.80,34392) (37.07,30658) (37.33,33858) (37.60,38660) (37.87,44529) (38.03,39193) (38.19,54665) (38.40,42928) (38.67,48797) (38.93,47730) (39.36,48050) (39.73,46129) (40.27,44529) (40.64,43995) (41.07,42395) (41.49,40261) (41.71,38127) (42.13,38127) (42.67,37593) (43.20,38127) (43.47,41328) (43.73,40261) (44.00,40794) (44.37,43141) (44.69,37593) (45.07,38874) (45.60,38874) (45.97,37593) (46.40,39727) (46.83,40261) (47.47,39727) (48.00,39727) (48.53,39514) (49.07,39727) (49.60,38660) (50.13,38447) (50.67,37593) (51.20,37060) (51.73,37273) (52.27,37593) (52.80,36740) (53.33,35993) (53.76,35459) (54.29,36206) (54.83,35993) (55.36,36313) (56.00,36526) (56.43,37593) (56.80,36740) (57.33,36313) (57.87,37273) (58.40,37593) (58.93,37807) (59.47,38447) (59.84,38127) (60.27,37807) (60.80,37807) (61.17,37593)
};
\addlegendentry{净变动额累计值 (右轴)}
\end{axis}
\end{tikzpicture}
\end{document}
